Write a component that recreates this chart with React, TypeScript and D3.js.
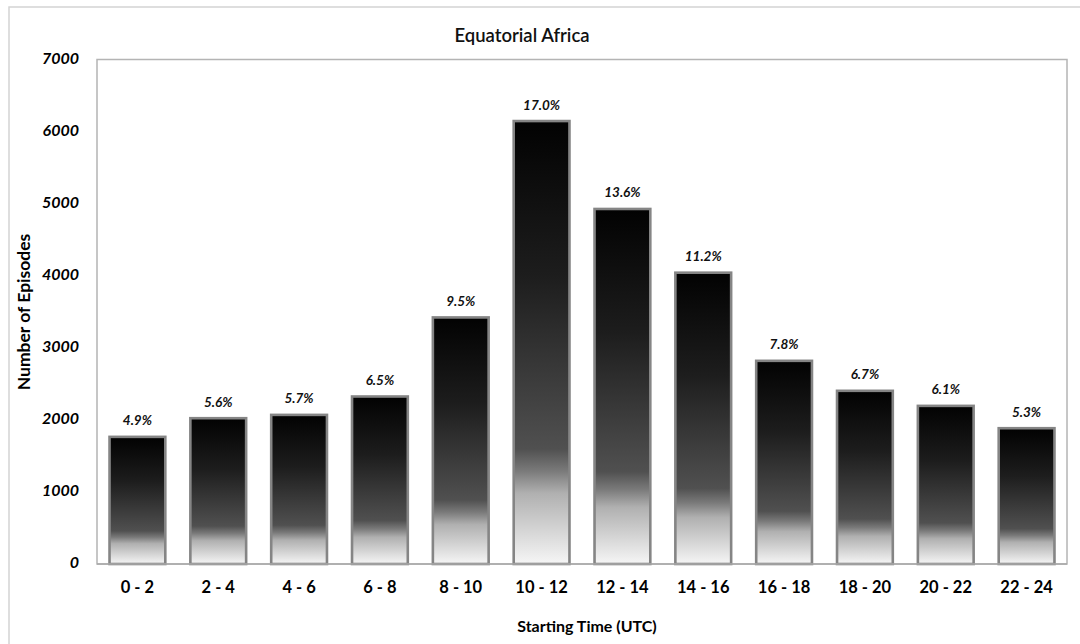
import React from "react";
import * as d3 from "d3";

// Diurnal distribution of episode starting times
const categories: string[] = [
  "0 - 2", "2 - 4", "4 - 6", "6 - 8", "8 - 10", "10 - 12",
  "12 - 14", "14 - 16", "16 - 18", "18 - 20", "20 - 22", "22 - 24",
];
const episodes: number[] = [1764, 2023, 2069, 2324, 3421, 6146, 4926, 4042, 2819, 2403, 2194, 1884];
const percentLabels: string[] = [
  "4.9%", "5.6%", "5.7%", "6.5%", "9.5%", "17.0%",
  "13.6%", "11.2%", "7.8%", "6.7%", "6.1%", "5.3%",
];
const yTicks: number[] = [0, 1000, 2000, 3000, 4000, 5000, 6000, 7000];

const W = 1080;
const H = 644;
const plot = { left: 97, right: 1067, top: 59.5, bottom: 564 };
const FONT = "Lato, 'Open Sans', sans-serif";

export default function App() {
  const x = d3
    .scaleBand<string>()
    .domain(categories)
    .range([plot.left, plot.right])
    .paddingInner(0.31)
    .paddingOuter(0.155);
  const y = d3.scaleLinear().domain([0, 7000]).range([plot.bottom, plot.top]);

  return (
    <svg
      width={W}
      height={H}
      style={{ position: "absolute", left: 0, top: 0, background: "#fff" }}
    >
      <defs>
        <linearGradient id="barFill" x1="0" y1="0" x2="0" y2="1">
          <stop offset="0" stopColor="#020202" />
          <stop offset="0.35" stopColor="#1d1d1d" />
          <stop offset="0.74" stopColor="#505050" />
          <stop offset="0.79" stopColor="#7a7a7a" />
          <stop offset="0.84" stopColor="#b0b0b0" />
          <stop offset="1" stopColor="#f6f6f6" />
        </linearGradient>
      </defs>

      {/* chart frame */}
      <rect x={9} y={7} width={W} height={H} fill="#fff" stroke="#d4d4d4" strokeWidth={1.5} />

      {/* plot area */}
      <rect
        x={plot.left}
        y={plot.top}
        width={plot.right - plot.left}
        height={plot.bottom - plot.top}
        fill="#fff"
        stroke="#b4b4b4"
        strokeWidth={1.5}
      />

      <text
        x={522}
        y={37}
        textAnchor="middle"
        dominantBaseline="middle"
        fontFamily={FONT}
        fontSize={18.5}
        fontWeight={600}
        fill="#111"
      >
        Equatorial Africa
      </text>

      {/* y axis labels */}
      {yTicks.map((t) => (
        <text
          key={t}
          x={79}
          y={y(t)}
          textAnchor="end"
          dominantBaseline="middle"
          fontFamily={FONT}
          fontSize={16}
          fontWeight={700}
          fontStyle="italic"
          fill="#000"
        >
          {t}
        </text>
      ))}

      {/* bars */}
      {categories.map((c, i) => {
        const x0 = x(c) as number;
        const top = y(episodes[i]);
        return (
          <g key={c}>
            <rect
              x={x0}
              y={top}
              width={x.bandwidth()}
              height={plot.bottom - top}
              fill="url(#barFill)"
              stroke="#858585"
              strokeWidth={2.6}
            />
            <text
              x={x0 + x.bandwidth() / 2}
              y={top - 15}
              textAnchor="middle"
              dominantBaseline="middle"
              fontFamily={FONT}
              fontSize={13.5}
              fontWeight={700}
              fontStyle="italic"
              fill="#111"
            >
              {percentLabels[i]}
            </text>
            <text
              x={x0 + x.bandwidth() / 2}
              y={589}
              textAnchor="middle"
              dominantBaseline="middle"
              fontFamily={FONT}
              fontSize={16.5}
              fontWeight={700}
              fill="#000"
            >
              {c}
            </text>
          </g>
        );
      })}

      {/* baseline */}
      <line x1={plot.left} x2={plot.right} y1={plot.bottom} y2={plot.bottom} stroke="#a8a8a8" strokeWidth={1.5} />

      {/* axis titles */}
      <text
        x={587}
        y={628}
        textAnchor="middle"
        dominantBaseline="middle"
        fontFamily={FONT}
        fontSize={16}
        fontWeight={700}
        fill="#000"
      >
        Starting Time (UTC)
      </text>
      <text
        transform={`translate(26,312) rotate(-90)`}
        textAnchor="middle"
        dominantBaseline="middle"
        fontFamily={FONT}
        fontSize={17.5}
        fontWeight={700}
        fill="#000"
      >
        Number of Episodes
      </text>
    </svg>
  );
}
